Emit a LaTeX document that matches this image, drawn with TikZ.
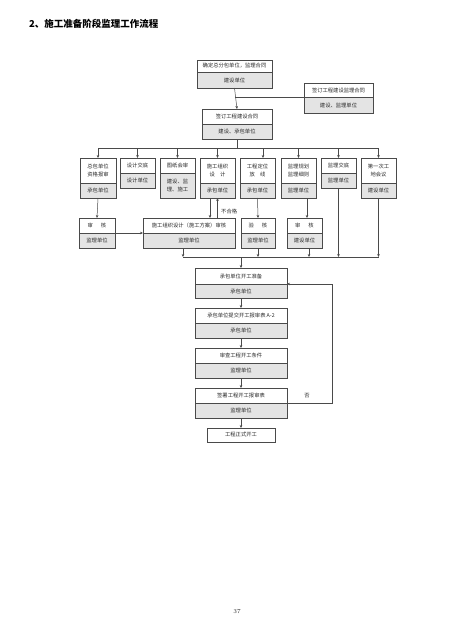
\documentclass[tikz,border=0pt]{standalone}
\usepackage{fontspec}
\newfontfamily\cjk{Noto Sans CJK SC}
\usetikzlibrary{arrows.meta,calc}
\definecolor{linec}{HTML}{4A4A4A}
\definecolor{lowc}{HTML}{E4E4E4}
\definecolor{shadowc}{HTML}{8C8C8C}
\definecolor{textc}{HTML}{2A2A2A}
\tikzset{
  box/.style={draw=linec, line width=0.5pt, inner sep=0pt, outer sep=0pt,
    font=\cjk\fontsize{5.3}{8}\selectfont, align=center, text=textc},
  upper/.style={box, fill=white},
  lower/.style={box, fill=lowc},
  line/.style={draw=linec, line width=0.5pt},
  arr/.style={line, -{Stealth[length=3pt,width=2.6pt]}},
  lbl/.style={font=\cjk\fontsize{5.3}{6}\selectfont, text=textc, inner sep=0pt},
}
% name, left, right, top, divider, bottom, upper text, lower text
\newcommand{\tbox}[8]{%
  \fill[shadowc] ({#2+1.3},{#4+1.3}) rectangle ({#3+1.3},{#6+1.3});
  \node[upper, minimum width={(#3-#2)*1pt}, minimum height={(#5-#4)*1pt}]
    (#1t) at ({(#2+#3)/2},{(#4+#5)/2}) {#7};
  \node[lower, minimum width={(#3-#2)*1pt}, minimum height={(#6-#5)*1pt}]
    (#1b) at ({(#2+#3)/2},{(#5+#6)/2}) {#8};
}
\begin{document}
\begin{tikzpicture}[x=1pt,y=-1pt]
\useasboundingbox[fill=white] (0,0) rectangle (474,634);

\node[font=\cjk\bfseries\fontsize{9.5}{10}\selectfont, anchor=west, inner sep=0pt] (title) at (29,24) {2、施工准备阶段监理工作流程};

\tbox{A}{197}{272}{60}{72}{88}{确定总分包单位，监理合同}{建设单位}
\tbox{B}{304}{373}{83}{97}{113}{签订工程建设监理合同}{建设、监理单位}
\tbox{C}{202}{272}{109}{124}{139}{签订工程建设合同}{建设、承包单位}

\tbox{Ra}{80}{116}{158}{183}{198}{总包单位\\资格报审}{承包单位}
\tbox{Rb}{120}{155}{158}{173}{188}{设计交底}{设计单位}
\tbox{Rc}{160}{195}{158}{173}{198}{图纸会审}{建设、监\\理、施工}
\tbox{Rd}{200}{235}{158}{183}{198}{施工组织\\设\hspace{1em}计}{承包单位}
\tbox{Re}{240}{275}{158}{183}{198}{工程定位\\放\hspace{1em}线}{承包单位}
\tbox{Rf}{281}{316}{158}{183}{198}{监理规划\\监理细则}{监理单位}
\tbox{Rg}{321}{356}{158}{173}{188}{监理交底}{监理单位}
\tbox{Rh}{361}{396}{158}{183}{198}{第一次工\\地会议}{建设单位}

\tbox{Sa}{79}{115}{218}{233}{248}{审\hspace{1.5em}核}{监理单位}
\tbox{Sb}{143}{235}{218}{233}{248}{施工组织设计（施工方案）审核}{监理单位}
\tbox{Sc}{241}{275}{218}{233}{248}{验\hspace{1.5em}核}{监理单位}
\tbox{Sd}{287}{322}{218}{233}{248}{审\hspace{1.5em}核}{建设单位}

\tbox{D}{195}{287}{268}{284}{298}{承包单位开工准备}{承包单位}
\tbox{E}{195}{287}{308}{323}{338}{承包单位提交开工报审表 A-2}{承包单位}
\tbox{F}{195}{287}{348}{363}{378}{审查工程开工条件}{监理单位}
\tbox{G}{195}{287}{388}{403}{418}{签署工程开工报审表}{监理单位}

\fill[shadowc] (208.3,429.3) rectangle (276.3,443.3);
\node[upper, minimum width=68pt, minimum height=14pt] (H) at (241,435) {工程正式开工};

% top part
\draw[arr] (Ab.south) -- (Ct.north);
\draw[line] (Bb.north west) -- (Ab.south |- Bb.north west);

\coordinate (bus1) at (0,148);
\draw[line] (Cb.south) -- (Cb.south |- bus1);
\draw[line] (Rat.north |- bus1) -- (Rht.north |- bus1);
\foreach \n in {Ra,Rb,Rc,Rd,Rf,Rg,Rh}{
  \draw[arr] (\n t.north |- bus1) -- (\n t.north);
}
\draw[arr] ([xshift=5.5pt]Ret.north |- bus1) -- ([xshift=5.5pt]Ret.north);

% row 1 to row 2
\draw[arr] (Rab.south) -- (Sat.north);
\draw[arr] (Sat.south east) -- (Sbt.south west);
\draw[arr] ([xshift=-7.5pt]Rdb.south) -- ([xshift=-7.5pt]Rdb.south |- Sbt.north);
\draw[arr] (Rdb.south |- Sbt.north) -- (Rdb.south);
\node[lbl, anchor=west] (bhg) at (221,211) {不合格};
\draw[arr] (Reb.south) -- (Sct.north);
\draw[arr] ([xshift=2.5pt]Sdt.north |- Rfb.south) -- ([xshift=2.5pt]Sdt.north);

% bus 2
\coordinate (bus2) at (0,257);
\draw[arr] ([xshift=-6pt]Sbb.south) -- ([xshift=-6pt]Sbb.south |- bus2);
\draw[arr] (Scb.south) -- (Scb.south |- bus2);
\draw[arr] ([xshift=4.5pt]Sdb.south) -- ([xshift=4.5pt]Sdb.south |- bus2);
\draw[arr] (Rgb.south) -- (Rgb.south |- bus2);
\draw[arr] (Rhb.south) -- (Rhb.south |- bus2);
\draw[line] ([xshift=-6pt]Sbb.south |- bus2) -- (Rhb.south |- bus2);
\draw[arr] (Dt.north |- bus2) -- (Dt.north);

% chain
\draw[arr] (Db.south) -- (Et.north);
\draw[arr] (Eb.south) -- (Ft.north);
\draw[arr] (Fb.south) -- (Gt.north);
\draw[arr] (Gb.south) -- (H.north);

% loop back
\coordinate (lp) at (332,0);
\draw[arr] (Gt.south east) -| (lp |- Dt.south east) -- (Dt.south east);
\node[lbl] (fou) at (307,396) {否};

\node[font=\fontsize{6}{7}\selectfont, text=textc, inner sep=0pt] (pg) at (237,612) {37};
\end{tikzpicture}
\end{document}
